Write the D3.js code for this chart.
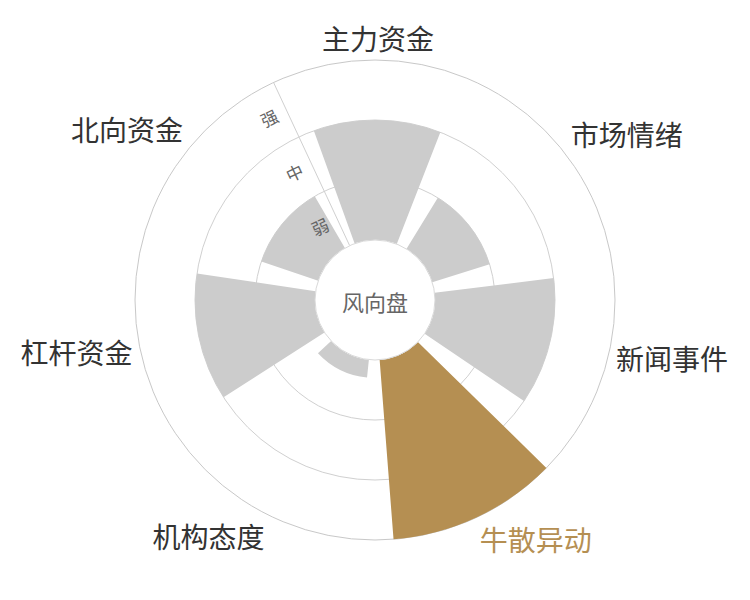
<!DOCTYPE html>
<html>

<head>
    <meta charset="utf-8">
    <script src="https://d3js.org/d3.v7.min.js"></script>
    <style>
        body {
            margin: 0;
            background-color: #ffffff;
        }

        text {
            font-family: "Noto Sans CJK SC", "Noto Sans", sans-serif;
        }
    </style>
</head>

<body>
    <svg id="canvas" width="750" height="600"></svg>
    <script>
        const svg = d3.select('#canvas');
        const WIDTH = 750;
        const HEIGHT = 600;
        const CX = WIDTH / 2;
        const CY = 300;
        const INNER_RADIUS = 60;
        const OUTER_RADIUS = 240;
        const START_DEG = -25; //the radial axis sits here, degrees clockwise from 12 o'clock
        const LABEL_MARGIN = 8;
        const BAR_COLOR = '#cccccc';
        const HIGHLIGHT_COLOR = '#b58f52';
        const GRID_COLOR = '#d0d0d0';

        //categories go clockwise from the top
        const categories = ['主力资金', '市场情绪', '新闻事件', '牛散异动', '机构态度', '杠杆资金', '北向资金'];
        //strength of each category, 0..3 (弱 / 中 / 强 bands)
        const values = [2, 1, 2, 3, 0.3, 2, 1];
        //radial band labels, from the inside out
        const levels = ['弱', '中', '强'];
        const highlighted = ['牛散异动'];
        const centerTitle = ['风向盘'];

        const startRad = START_DEG * Math.PI / 180;

        //one step per category, bar fills 80% of it, centred
        const angle = d3.scaleBand()
            .domain(categories)
            .range([startRad, startRad + 2 * Math.PI])
            .paddingInner(0.2)
            .paddingOuter(0.1);

        const radius = d3.scaleLinear()
            .domain([0, levels.length])
            .range([INNER_RADIUS, OUTER_RADIUS]);

        const g = svg.append('g')
            .attr('transform', `translate(${CX},${CY})`);

        //grid circles at the band edges
        g.append('g')
            .selectAll('circle')
            .data(d3.range(1, levels.length + 1))
            .join('circle')
            .attr('r', d => radius(d))
            .attr('fill', 'none')
            .attr('stroke', (d, i) => i === levels.length - 1 ? '#c8c8c8' : GRID_COLOR)
            .attr('stroke-width', 1);

        //radial axis line
        g.append('line')
            .attr('x1', radius(0) * Math.sin(startRad))
            .attr('y1', -radius(0) * Math.cos(startRad))
            .attr('x2', radius(levels.length) * Math.sin(startRad))
            .attr('y2', -radius(levels.length) * Math.cos(startRad))
            .attr('stroke', GRID_COLOR)
            .attr('stroke-width', 1);

        //bars
        const arc = d3.arc()
            .innerRadius(radius(0))
            .outerRadius(d => radius(d.value))
            .startAngle(d => angle(d.name))
            .endAngle(d => angle(d.name) + angle.bandwidth());

        const barData = categories.map((name, i) => ({ name, value: values[i] }));

        g.append('g')
            .selectAll('path')
            .data(barData)
            .join('path')
            .attr('d', arc)
            .attr('fill', d => highlighted.includes(d.name) ? HIGHLIGHT_COLOR : BAR_COLOR);

        //band labels 弱/中/强, set just beside the radial axis
        const perp = [-Math.cos(startRad), -Math.sin(startRad)]; //unit vector to the left of the axis
        const LEVEL_OFFSET = 19;
        g.append('g')
            .selectAll('text')
            .data(levels)
            .join('text')
            .attr('transform', (d, i) => {
                const r = radius(i + 0.5);
                const x = r * Math.sin(startRad) + perp[0] * LEVEL_OFFSET;
                const y = -r * Math.cos(startRad) + perp[1] * LEVEL_OFFSET;
                return `translate(${x},${y}) rotate(${START_DEG})`;
            })
            .attr('text-anchor', 'middle')
            .attr('dominant-baseline', 'central')
            .attr('font-size', 17)
            .attr('fill', '#666666')
            .text(d => d);

        //white hub in the middle
        g.append('circle')
            .attr('r', INNER_RADIUS)
            .attr('fill', '#ffffff')
            .attr('stroke', '#d9d9d9')
            .attr('stroke-width', 1);

        g.append('text')
            .data(centerTitle)
            .attr('x', 0)
            .attr('y', 1)
            .attr('text-anchor', 'middle')
            .attr('dominant-baseline', 'central')
            .attr('font-size', 22)
            .attr('fill', '#666666')
            .text(d => d);

        //category labels outside the ring, aligned by which side they fall on
        const LABEL_SIZE = 28;
        const labelR = OUTER_RADIUS + LABEL_MARGIN;
        g.append('g')
            .selectAll('text')
            .data(categories)
            .join('text')
            .each(function (d) {
                const a = angle(d) + angle.bandwidth() / 2;
                const x = labelR * Math.sin(a);
                const y = -labelR * Math.cos(a);
                let anchor = 'middle';
                if (Math.abs(x) / labelR >= 0.3) anchor = x > 0 ? 'start' : 'end';
                let cy = y;
                if (Math.abs(y) / labelR >= 0.3) cy = y > 0 ? y + LABEL_SIZE / 2 : y - LABEL_SIZE / 2;
                d3.select(this)
                    .attr('x', x)
                    .attr('y', cy)
                    .attr('text-anchor', anchor);
            })
            .attr('dominant-baseline', 'central')
            .attr('font-size', LABEL_SIZE)
            .attr('fill', d => highlighted.includes(d) ? HIGHLIGHT_COLOR : '#333333')
            .text(d => d);
    </script>
</body>

</html>
